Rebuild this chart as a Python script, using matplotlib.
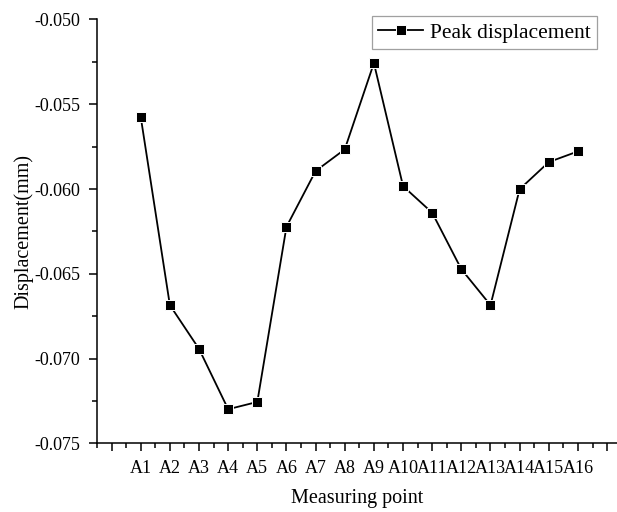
import matplotlib
matplotlib.use("Agg")
import matplotlib.pyplot as plt
from matplotlib.ticker import MultipleLocator, FixedLocator

categories = ["A1", "A2", "A3", "A4", "A5", "A6", "A7", "A8",
              "A9", "A10", "A11", "A12", "A13", "A14", "A15", "A16"]
peak_displacement = [-0.05574, -0.06685, -0.06943, -0.07299, -0.07256, -0.06223,
                     -0.05894, -0.05766, -0.05257, -0.05983, -0.06140, -0.06473,
                     -0.06685, -0.06001, -0.05841, -0.05778]
y_ticks = [-0.075, -0.070, -0.065, -0.060, -0.055, -0.050]
y_tick_labels = ["-0.075", "-0.070", "-0.065", "-0.060", "-0.055", "-0.050"]

plt.rcParams['font.family'] = ['Liberation Serif', 'DejaVu Serif']

fig = plt.figure(figsize=(6.17, 5.12), dpi=100)
ax = fig.add_axes([97/617, 1 - 443.3/512, 1 - 97/617, (443.3 - 19.5)/512])

x = list(range(1, len(categories) + 1))
ax.plot(x, peak_displacement, color='black', linewidth=1.3, marker='s',
        markersize=7, markerfacecolor='black', markeredgecolor='white',
        markeredgewidth=0.7, label='Peak displacement')

ax.set_xlim(-0.5, 17.34)
ax.set_ylim(-0.075, -0.050)

ax.xaxis.set_major_locator(FixedLocator(list(range(0, 18))))
ax.set_xticklabels([""] + categories + [""])
ax.xaxis.set_minor_locator(MultipleLocator(0.5))
ax.set_yticks(y_ticks)
ax.set_yticklabels(y_tick_labels)
ax.yaxis.set_minor_locator(MultipleLocator(0.0025))

for s in ['top', 'right']:
    ax.spines[s].set_visible(False)
for s in ['left', 'bottom']:
    ax.spines[s].set_linewidth(1.1)

ax.tick_params(axis='both', which='major', direction='out', length=6, width=1.1,
               labelsize=13, pad=6)
ax.tick_params(axis='both', which='minor', direction='out', length=3.5, width=1.1)
ax.tick_params(axis='x', which='major', pad=6)

ax.set_xlabel('Measuring point', fontsize=14.5, labelpad=9)
ax.set_ylabel('Displacement(mm)', fontsize=14.5, labelpad=1)

leg = ax.legend(loc='upper right', bbox_to_anchor=(597/617, 1 - 16/512),
                bbox_transform=fig.transFigure, fontsize=15.5, frameon=True,
                fancybox=False, edgecolor='#888888', handlelength=2.1,
                borderpad=0.3, handletextpad=0.3, borderaxespad=0)
leg.get_frame().set_linewidth(0.9)

fig.savefig('out.png', dpi=100)
